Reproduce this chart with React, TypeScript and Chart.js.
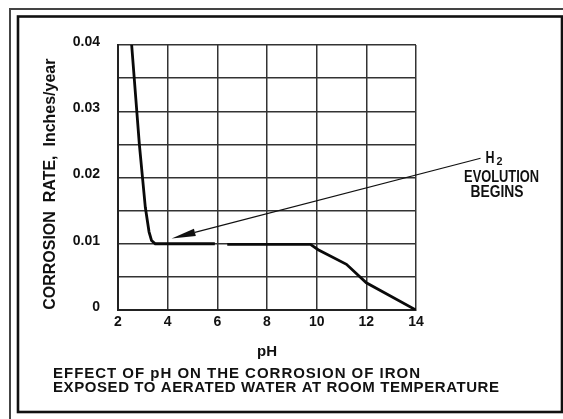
import React, { useEffect, useRef } from 'react';
import { Chart, registerables } from 'chart.js';

Chart.register(...registerables);

// ---- data ----
const phValues = [2.55, 2.86, 3.1, 3.25, 3.35, 3.5, 5.9, 6.15, 6.4, 9.75, 10.06, 11.2, 12.0, 14.0];
const corrosionRates: (number | null)[] = [0.04, 0.025, 0.0155, 0.0118, 0.0105, 0.01, 0.01, null, 0.0099, 0.0099, 0.0091, 0.0069, 0.0041, 0];
const xTickLabels = ['2', '4', '6', '8', '10', '12', '14'];
const yTickLabels = ['0', '0.01', '0.02', '0.03', '0.04'];
const arrowTail = { x: 16.6, y: 0.0229 };
const arrowTip = { x: 4.16, y: 0.0108 };
const annotationLines = ['EVOLUTION', 'BEGINS'];
const captionLines = [
  'EFFECT OF pH ON THE CORROSION OF IRON',
  'EXPOSED TO AERATED WATER AT ROOM TEMPERATURE',
];

const FONT = '"Liberation Sans", Arial, sans-serif';

// draw text so it spans the given width, by letter spacing where possible
function spacedText(ctx: CanvasRenderingContext2D, text: string, x: number, y: number, width: number, size: number) {
  ctx.save();
  ctx.font = `bold ${size}px ${FONT}`;
  ctx.textAlign = 'left';
  ctx.textBaseline = 'alphabetic';
  const w = ctx.measureText(text).width;
  const c: any = ctx;
  if ('letterSpacing' in c && text.length > 1) {
    const sp = (width - w) / (text.length - 1);
    c.letterSpacing = `${sp}px`;
    ctx.fillText(text, x, y);
    c.letterSpacing = '0px';
  } else {
    ctx.translate(x, y);
    ctx.scale(width / w, 1);
    ctx.fillText(text, 0, 0);
  }
  ctx.restore();
}

function fitText(ctx: CanvasRenderingContext2D, text: string, x: number, y: number, width: number, size: number) {
  ctx.save();
  ctx.font = `bold ${size}px ${FONT}`;
  ctx.textAlign = 'left';
  ctx.textBaseline = 'alphabetic';
  const w = ctx.measureText(text).width;
  ctx.translate(x, y);
  ctx.scale(width / w, 1);
  ctx.fillText(text, 0, 0);
  ctx.restore();
}

const decorPlugin = {
  id: 'decor',
  beforeDraw(chart: any) {
    const ctx: CanvasRenderingContext2D = chart.ctx;
    ctx.save();
    ctx.fillStyle = '#ffffff';
    ctx.fillRect(0, 0, chart.width, chart.height);
    // double frame
    ctx.strokeStyle = '#444';
    ctx.lineWidth = 2;
    ctx.strokeRect(10, 9, 700, 600);
    ctx.strokeStyle = '#111';
    ctx.lineWidth = 2.6;
    ctx.strokeRect(18, 16.5, 544, 395.5);
    ctx.restore();
  },
  afterDraw(chart: any) {
    const ctx: CanvasRenderingContext2D = chart.ctx;
    const xs = chart.scales.x;
    const ys = chart.scales.y;
    const tx = xs.getPixelForValue(arrowTip.x);
    const ty = ys.getPixelForValue(arrowTip.y);
    const sx = xs.getPixelForValue(arrowTail.x);
    const sy = ys.getPixelForValue(arrowTail.y);
    const ang = Math.atan2(sy - ty, sx - tx);
    const headLen = 24;
    const headHalf = 3.8;
    const bx = tx + Math.cos(ang) * headLen;
    const by = ty + Math.sin(ang) * headLen;
    ctx.save();
    ctx.strokeStyle = '#111';
    ctx.fillStyle = '#111';
    ctx.lineWidth = 1.2;
    ctx.beginPath();
    ctx.moveTo(sx, sy);
    ctx.lineTo(bx, by);
    ctx.stroke();
    ctx.beginPath();
    ctx.moveTo(tx, ty);
    ctx.lineTo(bx - Math.sin(ang) * headHalf, by + Math.cos(ang) * headHalf);
    ctx.lineTo(bx + Math.sin(ang) * headHalf, by - Math.cos(ang) * headHalf);
    ctx.closePath();
    ctx.fill();

    // H2 label
    ctx.fillStyle = '#111';
    fitText(ctx, 'H', sx + 5, sy + 4.5, 9, 16);
    fitText(ctx, '2', sx + 16, sy + 7, 6, 11);
    fitText(ctx, annotationLines[0], sx - 16.5, sy + 23.5, 75, 16);
    fitText(ctx, annotationLines[1], sx - 10, sy + 39, 53, 16);

    // caption
    spacedText(ctx, captionLines[0], 53, 378, 367, 15);
    spacedText(ctx, captionLines[1], 53, 392, 446, 15);
    ctx.restore();
  },
};

export default function App() {
  const ref = useRef<HTMLCanvasElement | null>(null);
  useEffect(() => {
    if (!ref.current) return;
    const chart = new Chart(ref.current, {
      type: 'line',
      data: {
        datasets: [
          {
            data: phValues.map((x, i) => ({ x, y: corrosionRates[i] })) as any,
            borderColor: '#0a0a0a',
            borderWidth: 2.8,
            pointRadius: 0,
            tension: 0,
            fill: false,
            spanGaps: false,
          },
        ],
      },
      options: {
        responsive: false,
        animation: false,
        devicePixelRatio: 1,
        layout: { padding: { left: 0, top: 45, right: 147, bottom: 57 } },
        plugins: { legend: { display: false }, tooltip: { enabled: false } },
        scales: {
          x: {
            type: 'linear',
            min: 2,
            max: 14,
            afterFit: (s: any) => { s.height = 52; },
            ticks: {
              stepSize: 2,
              padding: 4,
              color: '#111',
              font: { family: FONT, size: 14, weight: 'bold' },
              callback: (v: any) => xTickLabels[Math.round((Number(v) - 2) / 2)] ?? '',
              maxRotation: 0,
            },
            grid: { color: '#333', lineWidth: 1.5, drawTicks: false },
            border: { display: true, color: '#222', width: 2 },
            title: {
              display: true,
              text: 'pH',
              color: '#111',
              font: { family: FONT, size: 15, weight: 'bold' },
              padding: { top: 0, bottom: 1 },
            },
          },
          y: {
            type: 'linear',
            min: 0,
            max: 0.04,
            afterFit: (s: any) => { s.width = 118; },
            ticks: {
              stepSize: 0.005,
              padding: 18,
              labelOffset: -3,
              color: '#111',
              font: { family: FONT, size: 14, weight: 'bold' },
              callback: (v: any) => {
                const i = Math.round(Number(v) * 1000);
                return i % 10 === 0 ? yTickLabels[i / 10] : '';
              },
            },
            grid: { color: '#333', lineWidth: 1.5, drawTicks: false },
            border: { display: true, color: '#222', width: 2 },
            title: {
              display: true,
              text: 'CORROSION  RATE,  Inches/year   ',
              color: '#111',
              font: { family: FONT, size: 16, weight: 'bold' },
              padding: { top: 41, bottom: 0 },
            },
          },
        },
      },
      plugins: [decorPlugin],
    } as any);
    return () => chart.destroy();
  }, []);
  return (
    <div style={{ position: 'fixed', left: 0, top: 0, width: 563, height: 419, background: '#fff' }}>
      <canvas ref={ref} width={563} height={419} style={{ display: 'block' }} />
    </div>
  );
}
